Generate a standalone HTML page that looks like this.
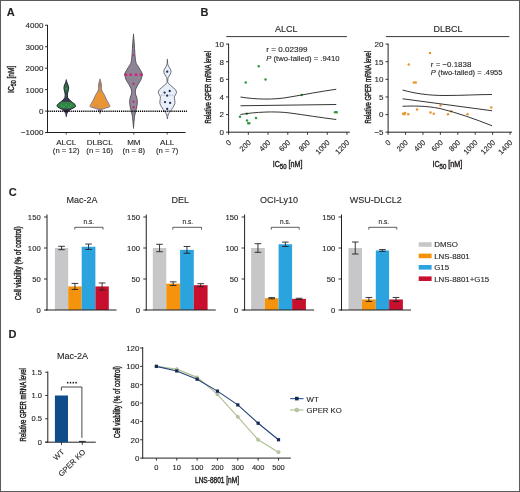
<!DOCTYPE html>
<html><head><meta charset="utf-8"><style>
html,body{margin:0;padding:0;background:#fff;}
#c{position:relative;width:520px;height:492px;overflow:hidden;}
svg{position:absolute;left:0;top:0;will-change:transform;}
svg text{font-family:"Liberation Sans", sans-serif;fill:#231f20;stroke:#231f20;stroke-width:0.12px;}
svg text.cd{stroke-width:0.42px;}
</style></head><body><div id="c">
<svg width="520" height="492" viewBox="0 0 520 492">
<rect x="0" y="0" width="520" height="492" fill="#fff"/>
<text x="6.70" y="15.80" font-size="11" text-anchor="start" font-weight="bold" fill="#000" >A</text>
<line x1="47.50" y1="24.86" x2="47.50" y2="132.60" stroke="#231f20" stroke-width="1.0" />
<line x1="45.00" y1="25.26" x2="47.50" y2="25.26" stroke="#231f20" stroke-width="0.9" />
<text x="43.40" y="28.16" font-size="8" text-anchor="end" >4000</text>
<line x1="45.00" y1="46.72" x2="47.50" y2="46.72" stroke="#231f20" stroke-width="0.9" />
<text x="43.40" y="49.62" font-size="8" text-anchor="end" >3000</text>
<line x1="45.00" y1="68.18" x2="47.50" y2="68.18" stroke="#231f20" stroke-width="0.9" />
<text x="43.40" y="71.08" font-size="8" text-anchor="end" >2000</text>
<line x1="45.00" y1="89.64" x2="47.50" y2="89.64" stroke="#231f20" stroke-width="0.9" />
<text x="43.40" y="92.54" font-size="8" text-anchor="end" >1000</text>
<line x1="45.00" y1="111.10" x2="47.50" y2="111.10" stroke="#231f20" stroke-width="0.9" />
<text x="43.40" y="114.00" font-size="8" text-anchor="end" >0</text>
<line x1="45.00" y1="132.56" x2="47.50" y2="132.56" stroke="#231f20" stroke-width="0.9" />
<text x="43.40" y="135.46" font-size="8" text-anchor="end" >−1000</text>
<line x1="45.80" y1="132.50" x2="185.50" y2="132.50" stroke="#231f20" stroke-width="1.0" />
<line x1="66.20" y1="132.50" x2="66.20" y2="134.60" stroke="#231f20" stroke-width="0.8" />
<line x1="99.70" y1="132.50" x2="99.70" y2="134.60" stroke="#231f20" stroke-width="0.8" />
<line x1="133.80" y1="132.50" x2="133.80" y2="134.60" stroke="#231f20" stroke-width="0.8" />
<line x1="167.20" y1="132.50" x2="167.20" y2="134.60" stroke="#231f20" stroke-width="0.8" />
<text class="cd" transform="translate(14.3,92.9) rotate(-90)" font-size="8.7" textLength="27.3" lengthAdjust="spacingAndGlyphs">IC<tspan font-size="7.0" dy="2.1">50</tspan><tspan dy="-2.1"> [nM]</tspan></text>
<text x="66.20" y="145.00" font-size="8" text-anchor="middle" >ALCL</text>
<text x="66.20" y="153.40" font-size="7.7" text-anchor="middle" >(n = 12)</text>
<text x="99.70" y="145.00" font-size="8" text-anchor="middle" >DLBCL</text>
<text x="99.70" y="153.40" font-size="7.7" text-anchor="middle" >(n = 16)</text>
<text x="133.80" y="145.00" font-size="8" text-anchor="middle" >MM</text>
<text x="133.80" y="153.40" font-size="7.7" text-anchor="middle" >(n = 8)</text>
<text x="167.20" y="145.00" font-size="8" text-anchor="middle" >ALL</text>
<text x="167.20" y="153.40" font-size="7.7" text-anchor="middle" >(n = 7)</text>
<clipPath id="vc1"><path d="M66.30,80.00 C66.44,80.50 66.83,82.08 67.15,83.00 C67.47,83.92 67.95,84.65 68.20,85.50 C68.45,86.35 68.65,87.23 68.65,88.10 C68.65,88.97 68.40,89.70 68.20,90.70 C68.00,91.70 67.53,92.97 67.45,94.10 C67.37,95.23 67.33,96.50 67.70,97.50 C68.08,98.50 68.87,99.25 69.70,100.10 C70.53,100.95 71.73,101.75 72.70,102.60 C73.67,103.45 75.18,104.42 75.50,105.20 C75.82,105.98 75.32,106.67 74.60,107.30 C73.88,107.93 72.15,108.42 71.20,109.00 C70.25,109.58 69.58,110.15 68.90,110.80 C68.22,111.45 67.53,111.98 67.10,112.90 C66.67,113.82 66.43,115.73 66.30,116.30 C66.17,116.87 66.43,116.87 66.30,116.30 C66.17,115.73 65.93,113.82 65.50,112.90 C65.07,111.98 64.38,111.45 63.70,110.80 C63.02,110.15 62.35,109.58 61.40,109.00 C60.45,108.42 58.72,107.93 58.00,107.30 C57.28,106.67 56.78,105.98 57.10,105.20 C57.42,104.42 58.93,103.45 59.90,102.60 C60.87,101.75 62.07,100.95 62.90,100.10 C63.73,99.25 64.52,98.50 64.90,97.50 C65.27,96.50 65.23,95.23 65.15,94.10 C65.07,92.97 64.60,91.70 64.40,90.70 C64.20,89.70 63.95,88.97 63.95,88.10 C63.95,87.23 64.15,86.35 64.40,85.50 C64.65,84.65 65.13,83.92 65.45,83.00 C65.77,82.08 66.16,80.50 66.30,80.00 C66.44,79.50 66.16,79.50 66.30,80.00Z"/></clipPath>
<path d="M66.30,80.00 C66.44,80.50 66.83,82.08 67.15,83.00 C67.47,83.92 67.95,84.65 68.20,85.50 C68.45,86.35 68.65,87.23 68.65,88.10 C68.65,88.97 68.40,89.70 68.20,90.70 C68.00,91.70 67.53,92.97 67.45,94.10 C67.37,95.23 67.33,96.50 67.70,97.50 C68.08,98.50 68.87,99.25 69.70,100.10 C70.53,100.95 71.73,101.75 72.70,102.60 C73.67,103.45 75.18,104.42 75.50,105.20 C75.82,105.98 75.32,106.67 74.60,107.30 C73.88,107.93 72.15,108.42 71.20,109.00 C70.25,109.58 69.58,110.15 68.90,110.80 C68.22,111.45 67.53,111.98 67.10,112.90 C66.67,113.82 66.43,115.73 66.30,116.30 C66.17,116.87 66.43,116.87 66.30,116.30 C66.17,115.73 65.93,113.82 65.50,112.90 C65.07,111.98 64.38,111.45 63.70,110.80 C63.02,110.15 62.35,109.58 61.40,109.00 C60.45,108.42 58.72,107.93 58.00,107.30 C57.28,106.67 56.78,105.98 57.10,105.20 C57.42,104.42 58.93,103.45 59.90,102.60 C60.87,101.75 62.07,100.95 62.90,100.10 C63.73,99.25 64.52,98.50 64.90,97.50 C65.27,96.50 65.23,95.23 65.15,94.10 C65.07,92.97 64.60,91.70 64.40,90.70 C64.20,89.70 63.95,88.97 63.95,88.10 C63.95,87.23 64.15,86.35 64.40,85.50 C64.65,84.65 65.13,83.92 65.45,83.00 C65.77,82.08 66.16,80.50 66.30,80.00 C66.44,79.50 66.16,79.50 66.30,80.00Z" fill="#3a3850"/>
<g clip-path="url(#vc1)">
<rect x="51.3" y="83.5" width="30" height="9.0" fill="#2f6a48"/>
<rect x="51.3" y="92.5" width="30" height="5.5" fill="#2d5a45"/>
<rect x="51.3" y="101.8" width="30" height="6.799999999999997" fill="#2f8444"/>
<circle cx="61.50" cy="105.30" r="0.9" fill="#3fa457"/>
<circle cx="66.30" cy="104.60" r="0.9" fill="#3fa457"/>
<circle cx="71.00" cy="105.50" r="0.9" fill="#3fa457"/>
<circle cx="63.80" cy="106.90" r="0.9" fill="#3fa457"/>
<circle cx="68.80" cy="106.90" r="0.9" fill="#3fa457"/>
<circle cx="66.30" cy="88.50" r="0.9" fill="#3fa457"/>
</g>
<path d="M66.30,80.00 C66.44,80.50 66.83,82.08 67.15,83.00 C67.47,83.92 67.95,84.65 68.20,85.50 C68.45,86.35 68.65,87.23 68.65,88.10 C68.65,88.97 68.40,89.70 68.20,90.70 C68.00,91.70 67.53,92.97 67.45,94.10 C67.37,95.23 67.33,96.50 67.70,97.50 C68.08,98.50 68.87,99.25 69.70,100.10 C70.53,100.95 71.73,101.75 72.70,102.60 C73.67,103.45 75.18,104.42 75.50,105.20 C75.82,105.98 75.32,106.67 74.60,107.30 C73.88,107.93 72.15,108.42 71.20,109.00 C70.25,109.58 69.58,110.15 68.90,110.80 C68.22,111.45 67.53,111.98 67.10,112.90 C66.67,113.82 66.43,115.73 66.30,116.30 C66.17,116.87 66.43,116.87 66.30,116.30 C66.17,115.73 65.93,113.82 65.50,112.90 C65.07,111.98 64.38,111.45 63.70,110.80 C63.02,110.15 62.35,109.58 61.40,109.00 C60.45,108.42 58.72,107.93 58.00,107.30 C57.28,106.67 56.78,105.98 57.10,105.20 C57.42,104.42 58.93,103.45 59.90,102.60 C60.87,101.75 62.07,100.95 62.90,100.10 C63.73,99.25 64.52,98.50 64.90,97.50 C65.27,96.50 65.23,95.23 65.15,94.10 C65.07,92.97 64.60,91.70 64.40,90.70 C64.20,89.70 63.95,88.97 63.95,88.10 C63.95,87.23 64.15,86.35 64.40,85.50 C64.65,84.65 65.13,83.92 65.45,83.00 C65.77,82.08 66.16,80.50 66.30,80.00 C66.44,79.50 66.16,79.50 66.30,80.00Z" fill="none" stroke="#2c2a3e" stroke-width="1.0" stroke-linejoin="round"/>
<clipPath id="vc2"><path d="M100.00,79.30 C100.17,79.83 100.77,81.57 101.00,82.50 C101.23,83.43 101.33,83.95 101.40,84.90 C101.47,85.85 101.27,87.12 101.40,88.20 C101.53,89.28 101.72,90.32 102.20,91.40 C102.68,92.48 103.72,93.60 104.30,94.70 C104.88,95.80 105.20,96.92 105.70,98.00 C106.20,99.08 106.70,100.12 107.30,101.20 C107.90,102.28 108.93,103.55 109.30,104.50 C109.67,105.45 110.38,106.23 109.50,106.90 C108.62,107.57 105.33,107.97 104.00,108.50 C102.67,109.03 102.17,109.28 101.50,110.10 C100.83,110.92 100.25,112.85 100.00,113.40 C99.75,113.95 100.25,113.95 100.00,113.40 C99.75,112.85 99.17,110.92 98.50,110.10 C97.83,109.28 97.33,109.03 96.00,108.50 C94.67,107.97 91.38,107.57 90.50,106.90 C89.62,106.23 90.33,105.45 90.70,104.50 C91.07,103.55 92.10,102.28 92.70,101.20 C93.30,100.12 93.80,99.08 94.30,98.00 C94.80,96.92 95.12,95.80 95.70,94.70 C96.28,93.60 97.32,92.48 97.80,91.40 C98.28,90.32 98.47,89.28 98.60,88.20 C98.73,87.12 98.53,85.85 98.60,84.90 C98.67,83.95 98.77,83.43 99.00,82.50 C99.23,81.57 99.83,79.83 100.00,79.30 C100.17,78.77 99.83,78.77 100.00,79.30Z"/></clipPath>
<path d="M100.00,79.30 C100.17,79.83 100.77,81.57 101.00,82.50 C101.23,83.43 101.33,83.95 101.40,84.90 C101.47,85.85 101.27,87.12 101.40,88.20 C101.53,89.28 101.72,90.32 102.20,91.40 C102.68,92.48 103.72,93.60 104.30,94.70 C104.88,95.80 105.20,96.92 105.70,98.00 C106.20,99.08 106.70,100.12 107.30,101.20 C107.90,102.28 108.93,103.55 109.30,104.50 C109.67,105.45 110.38,106.23 109.50,106.90 C108.62,107.57 105.33,107.97 104.00,108.50 C102.67,109.03 102.17,109.28 101.50,110.10 C100.83,110.92 100.25,112.85 100.00,113.40 C99.75,113.95 100.25,113.95 100.00,113.40 C99.75,112.85 99.17,110.92 98.50,110.10 C97.83,109.28 97.33,109.03 96.00,108.50 C94.67,107.97 91.38,107.57 90.50,106.90 C89.62,106.23 90.33,105.45 90.70,104.50 C91.07,103.55 92.10,102.28 92.70,101.20 C93.30,100.12 93.80,99.08 94.30,98.00 C94.80,96.92 95.12,95.80 95.70,94.70 C96.28,93.60 97.32,92.48 97.80,91.40 C98.28,90.32 98.47,89.28 98.60,88.20 C98.73,87.12 98.53,85.85 98.60,84.90 C98.67,83.95 98.77,83.43 99.00,82.50 C99.23,81.57 99.83,79.83 100.00,79.30 C100.17,78.77 99.83,78.77 100.00,79.30Z" fill="#e99533"/>
<g clip-path="url(#vc2)">
<rect x="85.0" y="79" width="30" height="8" fill="#b08450"/>
<rect x="85.0" y="87" width="30" height="5" fill="#cf8d45"/>
<rect x="85.0" y="108.6" width="30" height="5.400000000000006" fill="#8c8298"/>
<path d="M92,107.5 L97,103 L99,107.5 Z" fill="#c79060" opacity="0.6"/>
</g>
<path d="M100.00,79.30 C100.17,79.83 100.77,81.57 101.00,82.50 C101.23,83.43 101.33,83.95 101.40,84.90 C101.47,85.85 101.27,87.12 101.40,88.20 C101.53,89.28 101.72,90.32 102.20,91.40 C102.68,92.48 103.72,93.60 104.30,94.70 C104.88,95.80 105.20,96.92 105.70,98.00 C106.20,99.08 106.70,100.12 107.30,101.20 C107.90,102.28 108.93,103.55 109.30,104.50 C109.67,105.45 110.38,106.23 109.50,106.90 C108.62,107.57 105.33,107.97 104.00,108.50 C102.67,109.03 102.17,109.28 101.50,110.10 C100.83,110.92 100.25,112.85 100.00,113.40 C99.75,113.95 100.25,113.95 100.00,113.40 C99.75,112.85 99.17,110.92 98.50,110.10 C97.83,109.28 97.33,109.03 96.00,108.50 C94.67,107.97 91.38,107.57 90.50,106.90 C89.62,106.23 90.33,105.45 90.70,104.50 C91.07,103.55 92.10,102.28 92.70,101.20 C93.30,100.12 93.80,99.08 94.30,98.00 C94.80,96.92 95.12,95.80 95.70,94.70 C96.28,93.60 97.32,92.48 97.80,91.40 C98.28,90.32 98.47,89.28 98.60,88.20 C98.73,87.12 98.53,85.85 98.60,84.90 C98.67,83.95 98.77,83.43 99.00,82.50 C99.23,81.57 99.83,79.83 100.00,79.30 C100.17,78.77 99.83,78.77 100.00,79.30Z" fill="none" stroke="#857c94" stroke-width="1.0" stroke-linejoin="round"/>
<clipPath id="vc3"><path d="M133.50,35.00 C133.63,36.47 134.08,40.72 134.30,43.80 C134.53,46.88 134.58,50.42 134.85,53.50 C135.12,56.58 135.38,60.18 135.90,62.30 C136.43,64.42 137.27,64.90 138.00,66.20 C138.73,67.50 139.58,68.80 140.30,70.10 C141.02,71.40 142.10,72.70 142.30,74.00 C142.50,75.30 141.78,76.83 141.50,77.90 C141.22,78.97 141.20,79.25 140.60,80.40 C140.00,81.55 138.72,83.33 137.90,84.80 C137.08,86.27 136.12,87.75 135.70,89.20 C135.28,90.65 135.22,92.05 135.40,93.50 C135.58,94.95 136.48,96.43 136.80,97.90 C137.12,99.37 137.30,100.83 137.30,102.30 C137.30,103.77 137.07,105.23 136.80,106.70 C136.53,108.17 136.05,109.63 135.70,111.10 C135.35,112.57 134.95,114.05 134.70,115.50 C134.45,116.95 134.40,117.80 134.20,119.80 C134.00,121.80 133.62,126.22 133.50,127.50 C133.38,128.78 133.62,128.78 133.50,127.50 C133.38,126.22 133.00,121.80 132.80,119.80 C132.60,117.80 132.55,116.95 132.30,115.50 C132.05,114.05 131.65,112.57 131.30,111.10 C130.95,109.63 130.47,108.17 130.20,106.70 C129.93,105.23 129.70,103.77 129.70,102.30 C129.70,100.83 129.88,99.37 130.20,97.90 C130.52,96.43 131.42,94.95 131.60,93.50 C131.78,92.05 131.72,90.65 131.30,89.20 C130.88,87.75 129.92,86.27 129.10,84.80 C128.28,83.33 127.00,81.55 126.40,80.40 C125.80,79.25 125.78,78.97 125.50,77.90 C125.22,76.83 124.50,75.30 124.70,74.00 C124.90,72.70 125.98,71.40 126.70,70.10 C127.42,68.80 128.27,67.50 129.00,66.20 C129.73,64.90 130.57,64.42 131.10,62.30 C131.62,60.18 131.88,56.58 132.15,53.50 C132.42,50.42 132.47,46.88 132.70,43.80 C132.92,40.72 133.37,36.47 133.50,35.00 C133.63,33.53 133.37,33.53 133.50,35.00Z"/></clipPath>
<path d="M133.50,35.00 C133.63,36.47 134.08,40.72 134.30,43.80 C134.53,46.88 134.58,50.42 134.85,53.50 C135.12,56.58 135.38,60.18 135.90,62.30 C136.43,64.42 137.27,64.90 138.00,66.20 C138.73,67.50 139.58,68.80 140.30,70.10 C141.02,71.40 142.10,72.70 142.30,74.00 C142.50,75.30 141.78,76.83 141.50,77.90 C141.22,78.97 141.20,79.25 140.60,80.40 C140.00,81.55 138.72,83.33 137.90,84.80 C137.08,86.27 136.12,87.75 135.70,89.20 C135.28,90.65 135.22,92.05 135.40,93.50 C135.58,94.95 136.48,96.43 136.80,97.90 C137.12,99.37 137.30,100.83 137.30,102.30 C137.30,103.77 137.07,105.23 136.80,106.70 C136.53,108.17 136.05,109.63 135.70,111.10 C135.35,112.57 134.95,114.05 134.70,115.50 C134.45,116.95 134.40,117.80 134.20,119.80 C134.00,121.80 133.62,126.22 133.50,127.50 C133.38,128.78 133.62,128.78 133.50,127.50 C133.38,126.22 133.00,121.80 132.80,119.80 C132.60,117.80 132.55,116.95 132.30,115.50 C132.05,114.05 131.65,112.57 131.30,111.10 C130.95,109.63 130.47,108.17 130.20,106.70 C129.93,105.23 129.70,103.77 129.70,102.30 C129.70,100.83 129.88,99.37 130.20,97.90 C130.52,96.43 131.42,94.95 131.60,93.50 C131.78,92.05 131.72,90.65 131.30,89.20 C130.88,87.75 129.92,86.27 129.10,84.80 C128.28,83.33 127.00,81.55 126.40,80.40 C125.80,79.25 125.78,78.97 125.50,77.90 C125.22,76.83 124.50,75.30 124.70,74.00 C124.90,72.70 125.98,71.40 126.70,70.10 C127.42,68.80 128.27,67.50 129.00,66.20 C129.73,64.90 130.57,64.42 131.10,62.30 C131.62,60.18 131.88,56.58 132.15,53.50 C132.42,50.42 132.47,46.88 132.70,43.80 C132.92,40.72 133.37,36.47 133.50,35.00 C133.63,33.53 133.37,33.53 133.50,35.00Z" fill="#8e8594"/>
<g clip-path="url(#vc3)">
<rect x="118.5" y="88" width="30" height="40" fill="#958899"/>
</g>
<path d="M133.50,35.00 C133.63,36.47 134.08,40.72 134.30,43.80 C134.53,46.88 134.58,50.42 134.85,53.50 C135.12,56.58 135.38,60.18 135.90,62.30 C136.43,64.42 137.27,64.90 138.00,66.20 C138.73,67.50 139.58,68.80 140.30,70.10 C141.02,71.40 142.10,72.70 142.30,74.00 C142.50,75.30 141.78,76.83 141.50,77.90 C141.22,78.97 141.20,79.25 140.60,80.40 C140.00,81.55 138.72,83.33 137.90,84.80 C137.08,86.27 136.12,87.75 135.70,89.20 C135.28,90.65 135.22,92.05 135.40,93.50 C135.58,94.95 136.48,96.43 136.80,97.90 C137.12,99.37 137.30,100.83 137.30,102.30 C137.30,103.77 137.07,105.23 136.80,106.70 C136.53,108.17 136.05,109.63 135.70,111.10 C135.35,112.57 134.95,114.05 134.70,115.50 C134.45,116.95 134.40,117.80 134.20,119.80 C134.00,121.80 133.62,126.22 133.50,127.50 C133.38,128.78 133.62,128.78 133.50,127.50 C133.38,126.22 133.00,121.80 132.80,119.80 C132.60,117.80 132.55,116.95 132.30,115.50 C132.05,114.05 131.65,112.57 131.30,111.10 C130.95,109.63 130.47,108.17 130.20,106.70 C129.93,105.23 129.70,103.77 129.70,102.30 C129.70,100.83 129.88,99.37 130.20,97.90 C130.52,96.43 131.42,94.95 131.60,93.50 C131.78,92.05 131.72,90.65 131.30,89.20 C130.88,87.75 129.92,86.27 129.10,84.80 C128.28,83.33 127.00,81.55 126.40,80.40 C125.80,79.25 125.78,78.97 125.50,77.90 C125.22,76.83 124.50,75.30 124.70,74.00 C124.90,72.70 125.98,71.40 126.70,70.10 C127.42,68.80 128.27,67.50 129.00,66.20 C129.73,64.90 130.57,64.42 131.10,62.30 C131.62,60.18 131.88,56.58 132.15,53.50 C132.42,50.42 132.47,46.88 132.70,43.80 C132.92,40.72 133.37,36.47 133.50,35.00 C133.63,33.53 133.37,33.53 133.50,35.00Z" fill="none" stroke="#4e4a54" stroke-width="0.9" stroke-linejoin="round"/>
<ellipse cx="125.9" cy="74.7" rx="1.55" ry="1.2" fill="#d61c7c"/>
<ellipse cx="130.6" cy="74.7" rx="1.55" ry="1.2" fill="#d61c7c"/>
<ellipse cx="136.1" cy="74.7" rx="1.55" ry="1.2" fill="#d61c7c"/>
<ellipse cx="141.0" cy="74.7" rx="1.55" ry="1.2" fill="#d61c7c"/>
<circle cx="133.50" cy="55.00" r="0.9" fill="#b5327f"/>
<circle cx="133.50" cy="83.70" r="1.2" fill="#b5327f"/>
<circle cx="133.50" cy="101.80" r="1.2" fill="#b5327f"/>
<circle cx="133.50" cy="107.20" r="1.2" fill="#b5327f"/>
<path d="M167.40,59.60 C167.48,60.45 167.53,63.32 167.90,64.70 C168.27,66.08 169.07,66.83 169.60,67.90 C170.12,68.97 170.96,70.03 171.05,71.10 C171.14,72.17 170.62,73.23 170.15,74.30 C169.68,75.37 168.58,76.55 168.20,77.50 C167.82,78.45 167.90,79.15 167.85,80.00 C167.80,80.85 167.49,81.73 167.90,82.60 C168.31,83.47 169.37,84.33 170.30,85.20 C171.23,86.07 172.52,86.83 173.50,87.80 C174.48,88.77 175.75,90.05 176.20,91.00 C176.65,91.95 176.49,92.55 176.20,93.50 C175.91,94.45 174.68,95.52 174.45,96.70 C174.22,97.88 174.74,99.42 174.80,100.60 C174.86,101.78 175.13,102.63 174.80,103.80 C174.47,104.97 173.55,106.32 172.80,107.60 C172.05,108.88 171.03,110.43 170.30,111.50 C169.57,112.57 168.88,112.83 168.40,114.00 C167.92,115.17 167.57,117.75 167.40,118.50 C167.23,119.25 167.57,119.25 167.40,118.50 C167.23,117.75 166.88,115.17 166.40,114.00 C165.92,112.83 165.23,112.57 164.50,111.50 C163.77,110.43 162.75,108.88 162.00,107.60 C161.25,106.32 160.33,104.97 160.00,103.80 C159.67,102.63 159.94,101.78 160.00,100.60 C160.06,99.42 160.58,97.88 160.35,96.70 C160.12,95.52 158.89,94.45 158.60,93.50 C158.31,92.55 158.15,91.95 158.60,91.00 C159.05,90.05 160.32,88.77 161.30,87.80 C162.28,86.83 163.57,86.07 164.50,85.20 C165.43,84.33 166.49,83.47 166.90,82.60 C167.31,81.73 167.00,80.85 166.95,80.00 C166.90,79.15 166.98,78.45 166.60,77.50 C166.22,76.55 165.12,75.37 164.65,74.30 C164.18,73.23 163.66,72.17 163.75,71.10 C163.84,70.03 164.68,68.97 165.20,67.90 C165.73,66.83 166.53,66.08 166.90,64.70 C167.27,63.32 167.32,60.45 167.40,59.60 C167.48,58.75 167.32,58.75 167.40,59.60Z" fill="#e9eff9" stroke="#4b4b57" stroke-width="0.8" stroke-linejoin="round"/>
<line x1="161.00" y1="95.20" x2="174.00" y2="95.20" stroke="#8a9ab8" stroke-width="0.7" stroke-dasharray="1.5 1.2"/>
<circle cx="167.20" cy="71.70" r="1.15" fill="#1f2d52"/>
<circle cx="169.70" cy="91.00" r="1.15" fill="#1f2d52"/>
<circle cx="164.60" cy="92.60" r="1.15" fill="#1f2d52"/>
<circle cx="167.20" cy="95.70" r="1.15" fill="#1f2d52"/>
<circle cx="165.00" cy="102.10" r="1.15" fill="#1f2d52"/>
<circle cx="170.10" cy="102.90" r="1.15" fill="#1f2d52"/>
<circle cx="167.20" cy="108.90" r="1.15" fill="#1f2d52"/>
<line x1="47.50" y1="111.30" x2="187.00" y2="111.30" stroke="#000" stroke-width="1.5" stroke-dasharray="1.2 0.9"/>
<text x="200.60" y="15.90" font-size="11" text-anchor="start" font-weight="bold" fill="#000" >B</text>
<text x="286.30" y="32.00" font-size="9" text-anchor="middle" >ALCL</text>
<line x1="226.30" y1="36.60" x2="346.90" y2="36.60" stroke="#231f20" stroke-width="0.9" />
<line x1="228.60" y1="43.60" x2="228.60" y2="132.40" stroke="#231f20" stroke-width="1.0" />
<line x1="226.00" y1="44.10" x2="228.60" y2="44.10" stroke="#231f20" stroke-width="0.9" />
<text x="224.00" y="46.90" font-size="8" text-anchor="end" >10</text>
<line x1="226.00" y1="61.72" x2="228.60" y2="61.72" stroke="#231f20" stroke-width="0.9" />
<text x="224.00" y="64.52" font-size="8" text-anchor="end" >8</text>
<line x1="226.00" y1="79.34" x2="228.60" y2="79.34" stroke="#231f20" stroke-width="0.9" />
<text x="224.00" y="82.14" font-size="8" text-anchor="end" >6</text>
<line x1="226.00" y1="96.96" x2="228.60" y2="96.96" stroke="#231f20" stroke-width="0.9" />
<text x="224.00" y="99.76" font-size="8" text-anchor="end" >4</text>
<line x1="226.00" y1="114.58" x2="228.60" y2="114.58" stroke="#231f20" stroke-width="0.9" />
<text x="224.00" y="117.38" font-size="8" text-anchor="end" >2</text>
<line x1="226.00" y1="132.20" x2="228.60" y2="132.20" stroke="#231f20" stroke-width="0.9" />
<text x="224.00" y="135.00" font-size="8" text-anchor="end" >0</text>
<line x1="228.10" y1="132.20" x2="349.80" y2="132.20" stroke="#231f20" stroke-width="1.0" />
<line x1="228.60" y1="132.20" x2="228.60" y2="134.80" stroke="#231f20" stroke-width="0.9" />
<text transform="translate(231.60,143.1) rotate(-45)" font-size="7.5" text-anchor="end">0</text>
<line x1="248.33" y1="132.20" x2="248.33" y2="134.80" stroke="#231f20" stroke-width="0.9" />
<text transform="translate(251.33,143.1) rotate(-45)" font-size="7.5" text-anchor="end">200</text>
<line x1="268.06" y1="132.20" x2="268.06" y2="134.80" stroke="#231f20" stroke-width="0.9" />
<text transform="translate(271.06,143.1) rotate(-45)" font-size="7.5" text-anchor="end">400</text>
<line x1="287.79" y1="132.20" x2="287.79" y2="134.80" stroke="#231f20" stroke-width="0.9" />
<text transform="translate(290.79,143.1) rotate(-45)" font-size="7.5" text-anchor="end">600</text>
<line x1="307.52" y1="132.20" x2="307.52" y2="134.80" stroke="#231f20" stroke-width="0.9" />
<text transform="translate(310.52,143.1) rotate(-45)" font-size="7.5" text-anchor="end">800</text>
<line x1="327.25" y1="132.20" x2="327.25" y2="134.80" stroke="#231f20" stroke-width="0.9" />
<text transform="translate(330.25,143.1) rotate(-45)" font-size="7.5" text-anchor="end">1000</text>
<line x1="346.98" y1="132.20" x2="346.98" y2="134.80" stroke="#231f20" stroke-width="0.9" />
<text transform="translate(349.98,143.1) rotate(-45)" font-size="7.5" text-anchor="end">1200</text>
<text class="cd" transform="translate(211.20,87.3) rotate(-90)" font-size="8.4" text-anchor="middle" textLength="72.6" lengthAdjust="spacingAndGlyphs">Relative GPER mRNA level</text>
<text class="cd" x="272.70" y="167.3" font-size="8.8" textLength="29.8" lengthAdjust="spacingAndGlyphs">IC<tspan font-size="7.4" dy="1.9">50</tspan><tspan dy="-1.9"> [nM]</tspan></text>
<circle cx="258.75" cy="66.25" r="1.25" fill="#2f9a3e"/>
<circle cx="245.75" cy="82.50" r="1.25" fill="#2f9a3e"/>
<circle cx="265.50" cy="79.50" r="1.25" fill="#2f9a3e"/>
<circle cx="301.75" cy="95.00" r="1.25" fill="#2f9a3e"/>
<circle cx="246.75" cy="113.75" r="1.25" fill="#2f9a3e"/>
<circle cx="240.00" cy="116.75" r="1.25" fill="#2f9a3e"/>
<circle cx="247.00" cy="120.50" r="1.25" fill="#2f9a3e"/>
<circle cx="248.25" cy="123.25" r="1.25" fill="#2f9a3e"/>
<circle cx="249.25" cy="123.25" r="1.25" fill="#2f9a3e"/>
<circle cx="256.00" cy="118.00" r="1.25" fill="#2f9a3e"/>
<circle cx="335.00" cy="112.25" r="1.25" fill="#2f9a3e"/>
<circle cx="336.75" cy="112.25" r="1.25" fill="#2f9a3e"/>
<path d="M240.5,105.75 L336.25,104.5" fill="none" stroke="#2b2b2b" stroke-width="0.95"/>
<path d="M240.5,97 C255,99.5 275,100 290,97 C305,94.5 320,91.5 336.25,89.25" fill="none" stroke="#2b2b2b" stroke-width="0.95"/>
<path d="M240.5,114.5 C255,112 275,111 290,113 C305,115 320,117.5 336.25,119.5" fill="none" stroke="#2b2b2b" stroke-width="0.95"/>
<text x="266.30" y="51.80" font-size="8" text-anchor="start" textLength="41.2" lengthAdjust="spacingAndGlyphs" >r = 0.02399</text>
<text x="266.30" y="61.30" font-size="8" textLength="73.2" lengthAdjust="spacingAndGlyphs"><tspan font-style="italic">P</tspan> (two-tailed) = .9410</text>
<text x="447.90" y="32.00" font-size="9" text-anchor="middle" >DLBCL</text>
<line x1="385.90" y1="36.60" x2="509.30" y2="36.60" stroke="#231f20" stroke-width="0.9" />
<line x1="388.10" y1="43.60" x2="388.10" y2="132.40" stroke="#231f20" stroke-width="1.0" />
<line x1="385.50" y1="44.10" x2="388.10" y2="44.10" stroke="#231f20" stroke-width="0.9" />
<text x="383.50" y="46.90" font-size="8" text-anchor="end" >20</text>
<line x1="385.50" y1="61.72" x2="388.10" y2="61.72" stroke="#231f20" stroke-width="0.9" />
<text x="383.50" y="64.52" font-size="8" text-anchor="end" >15</text>
<line x1="385.50" y1="79.34" x2="388.10" y2="79.34" stroke="#231f20" stroke-width="0.9" />
<text x="383.50" y="82.14" font-size="8" text-anchor="end" >10</text>
<line x1="385.50" y1="96.96" x2="388.10" y2="96.96" stroke="#231f20" stroke-width="0.9" />
<text x="383.50" y="99.76" font-size="8" text-anchor="end" >5</text>
<line x1="385.50" y1="114.58" x2="388.10" y2="114.58" stroke="#231f20" stroke-width="0.9" />
<text x="383.50" y="117.38" font-size="8" text-anchor="end" >0</text>
<line x1="385.50" y1="132.20" x2="388.10" y2="132.20" stroke="#231f20" stroke-width="0.9" />
<text x="383.50" y="135.00" font-size="8" text-anchor="end" >−5</text>
<line x1="387.60" y1="132.20" x2="512.00" y2="132.20" stroke="#231f20" stroke-width="1.0" />
<line x1="388.10" y1="132.20" x2="388.10" y2="134.80" stroke="#231f20" stroke-width="0.9" />
<text transform="translate(391.10,143.1) rotate(-45)" font-size="7.5" text-anchor="end">0</text>
<line x1="405.52" y1="132.20" x2="405.52" y2="134.80" stroke="#231f20" stroke-width="0.9" />
<text transform="translate(408.52,143.1) rotate(-45)" font-size="7.5" text-anchor="end">200</text>
<line x1="422.94" y1="132.20" x2="422.94" y2="134.80" stroke="#231f20" stroke-width="0.9" />
<text transform="translate(425.94,143.1) rotate(-45)" font-size="7.5" text-anchor="end">400</text>
<line x1="440.36" y1="132.20" x2="440.36" y2="134.80" stroke="#231f20" stroke-width="0.9" />
<text transform="translate(443.36,143.1) rotate(-45)" font-size="7.5" text-anchor="end">600</text>
<line x1="457.78" y1="132.20" x2="457.78" y2="134.80" stroke="#231f20" stroke-width="0.9" />
<text transform="translate(460.78,143.1) rotate(-45)" font-size="7.5" text-anchor="end">800</text>
<line x1="475.20" y1="132.20" x2="475.20" y2="134.80" stroke="#231f20" stroke-width="0.9" />
<text transform="translate(478.20,143.1) rotate(-45)" font-size="7.5" text-anchor="end">1000</text>
<line x1="492.62" y1="132.20" x2="492.62" y2="134.80" stroke="#231f20" stroke-width="0.9" />
<text transform="translate(495.62,143.1) rotate(-45)" font-size="7.5" text-anchor="end">1200</text>
<line x1="510.04" y1="132.20" x2="510.04" y2="134.80" stroke="#231f20" stroke-width="0.9" />
<text transform="translate(513.04,143.1) rotate(-45)" font-size="7.5" text-anchor="end">1400</text>
<text class="cd" transform="translate(370.70,87.3) rotate(-90)" font-size="8.4" text-anchor="middle" textLength="72.6" lengthAdjust="spacingAndGlyphs">Relative GPER mRNA level</text>
<text class="cd" x="432.40" y="167.3" font-size="8.8" textLength="29.8" lengthAdjust="spacingAndGlyphs">IC<tspan font-size="7.4" dy="1.9">50</tspan><tspan dy="-1.9"> [nM]</tspan></text>
<circle cx="430.00" cy="53.00" r="1.25" fill="#e7962c"/>
<circle cx="408.75" cy="64.50" r="1.25" fill="#e7962c"/>
<circle cx="413.75" cy="82.50" r="1.25" fill="#e7962c"/>
<circle cx="415.75" cy="82.50" r="1.25" fill="#e7962c"/>
<circle cx="417.00" cy="109.50" r="1.25" fill="#e7962c"/>
<circle cx="403.00" cy="113.75" r="1.25" fill="#e7962c"/>
<circle cx="404.25" cy="114.25" r="1.25" fill="#e7962c"/>
<circle cx="405.00" cy="113.00" r="1.25" fill="#e7962c"/>
<circle cx="408.25" cy="114.25" r="1.25" fill="#e7962c"/>
<circle cx="430.50" cy="112.50" r="1.25" fill="#e7962c"/>
<circle cx="433.75" cy="113.75" r="1.25" fill="#e7962c"/>
<circle cx="440.50" cy="105.50" r="1.25" fill="#e7962c"/>
<circle cx="448.00" cy="114.25" r="1.25" fill="#e7962c"/>
<circle cx="451.25" cy="111.25" r="1.25" fill="#e7962c"/>
<circle cx="467.50" cy="114.25" r="1.25" fill="#e7962c"/>
<circle cx="491.25" cy="107.50" r="1.25" fill="#e7962c"/>
<path d="M402.5,98.75 L492,110.75" fill="none" stroke="#2b2b2b" stroke-width="0.95"/>
<path d="M402.5,90 C415,93.5 428,95.5 445,95.5 C462,95.5 478,94.5 492,94.5" fill="none" stroke="#2b2b2b" stroke-width="0.95"/>
<path d="M402.5,106.25 C412,106 425,105.5 440,108.5 C458,113 475,119 492,125.75" fill="none" stroke="#2b2b2b" stroke-width="0.95"/>
<text x="430.80" y="67.00" font-size="8" text-anchor="start" textLength="40.5" lengthAdjust="spacingAndGlyphs" >r = −0.1838</text>
<text x="430.80" y="75.30" font-size="8" textLength="71.7" lengthAdjust="spacingAndGlyphs"><tspan font-style="italic">P</tspan> (two-tailed) = .4955</text>
<text x="8.70" y="195.70" font-size="11" text-anchor="start" font-weight="bold" fill="#000" >C</text>
<text x="82.00" y="202.50" font-size="9" text-anchor="middle" >Mac-2A</text>
<rect x="54.90" y="248.00" width="13.30" height="62.00" fill="#c7c7c9"/>
<rect x="68.20" y="286.44" width="13.50" height="23.56" fill="#f5930d"/>
<rect x="81.70" y="246.76" width="13.70" height="63.24" fill="#2aa3df"/>
<rect x="95.40" y="286.44" width="13.40" height="23.56" fill="#c8102e"/>
<line x1="61.55" y1="246.30" x2="61.55" y2="249.70" stroke="#222" stroke-width="0.9" />
<line x1="58.25" y1="246.30" x2="64.85" y2="246.30" stroke="#222" stroke-width="0.9" />
<line x1="58.25" y1="249.70" x2="64.85" y2="249.70" stroke="#222" stroke-width="0.9" />
<line x1="74.95" y1="283.44" x2="74.95" y2="289.44" stroke="#222" stroke-width="0.9" />
<line x1="71.65" y1="283.44" x2="78.25" y2="283.44" stroke="#222" stroke-width="0.9" />
<line x1="71.65" y1="289.44" x2="78.25" y2="289.44" stroke="#222" stroke-width="0.9" />
<line x1="88.55" y1="244.06" x2="88.55" y2="249.46" stroke="#222" stroke-width="0.9" />
<line x1="85.25" y1="244.06" x2="91.85" y2="244.06" stroke="#222" stroke-width="0.9" />
<line x1="85.25" y1="249.46" x2="91.85" y2="249.46" stroke="#222" stroke-width="0.9" />
<line x1="102.10" y1="282.94" x2="102.10" y2="289.94" stroke="#222" stroke-width="0.9" />
<line x1="98.80" y1="282.94" x2="105.40" y2="282.94" stroke="#222" stroke-width="0.9" />
<line x1="98.80" y1="289.94" x2="105.40" y2="289.94" stroke="#222" stroke-width="0.9" />
<line x1="47.00" y1="214.50" x2="47.00" y2="310.40" stroke="#231f20" stroke-width="1.0" />
<line x1="44.00" y1="217.00" x2="47.00" y2="217.00" stroke="#231f20" stroke-width="0.9" />
<text x="40.70" y="219.70" font-size="7.7" text-anchor="end" >150</text>
<line x1="44.00" y1="248.00" x2="47.00" y2="248.00" stroke="#231f20" stroke-width="0.9" />
<text x="40.70" y="250.70" font-size="7.7" text-anchor="end" >100</text>
<line x1="44.00" y1="279.00" x2="47.00" y2="279.00" stroke="#231f20" stroke-width="0.9" />
<text x="40.70" y="281.70" font-size="7.7" text-anchor="end" >50</text>
<line x1="44.00" y1="310.00" x2="47.00" y2="310.00" stroke="#231f20" stroke-width="0.9" />
<text x="40.70" y="312.70" font-size="7.7" text-anchor="end" >0</text>
<line x1="45.80" y1="310.00" x2="116.50" y2="310.00" stroke="#231f20" stroke-width="1.0" />
<path d="M74.80,229.6 V227.3 H103.00 V229.6" fill="none" stroke="#333" stroke-width="0.8"/>
<text x="88.80" y="224.30" font-size="6.5" text-anchor="middle" fill="#444" >n.s.</text>
<text x="180.30" y="202.50" font-size="9" text-anchor="middle" >DEL</text>
<rect x="152.80" y="248.00" width="13.50" height="62.00" fill="#c7c7c9"/>
<rect x="166.30" y="283.65" width="13.80" height="26.35" fill="#f5930d"/>
<rect x="180.10" y="249.86" width="13.70" height="60.14" fill="#2aa3df"/>
<rect x="193.80" y="285.20" width="13.80" height="24.80" fill="#c8102e"/>
<line x1="159.55" y1="244.30" x2="159.55" y2="251.70" stroke="#222" stroke-width="0.9" />
<line x1="156.25" y1="244.30" x2="162.85" y2="244.30" stroke="#222" stroke-width="0.9" />
<line x1="156.25" y1="251.70" x2="162.85" y2="251.70" stroke="#222" stroke-width="0.9" />
<line x1="173.20" y1="281.85" x2="173.20" y2="285.45" stroke="#222" stroke-width="0.9" />
<line x1="169.90" y1="281.85" x2="176.50" y2="281.85" stroke="#222" stroke-width="0.9" />
<line x1="169.90" y1="285.45" x2="176.50" y2="285.45" stroke="#222" stroke-width="0.9" />
<line x1="186.95" y1="246.46" x2="186.95" y2="253.26" stroke="#222" stroke-width="0.9" />
<line x1="183.65" y1="246.46" x2="190.25" y2="246.46" stroke="#222" stroke-width="0.9" />
<line x1="183.65" y1="253.26" x2="190.25" y2="253.26" stroke="#222" stroke-width="0.9" />
<line x1="200.70" y1="283.70" x2="200.70" y2="286.70" stroke="#222" stroke-width="0.9" />
<line x1="197.40" y1="283.70" x2="204.00" y2="283.70" stroke="#222" stroke-width="0.9" />
<line x1="197.40" y1="286.70" x2="204.00" y2="286.70" stroke="#222" stroke-width="0.9" />
<line x1="146.25" y1="214.50" x2="146.25" y2="310.40" stroke="#231f20" stroke-width="1.0" />
<line x1="143.25" y1="217.00" x2="146.25" y2="217.00" stroke="#231f20" stroke-width="0.9" />
<text x="139.95" y="219.70" font-size="7.7" text-anchor="end" >150</text>
<line x1="143.25" y1="248.00" x2="146.25" y2="248.00" stroke="#231f20" stroke-width="0.9" />
<text x="139.95" y="250.70" font-size="7.7" text-anchor="end" >100</text>
<line x1="143.25" y1="279.00" x2="146.25" y2="279.00" stroke="#231f20" stroke-width="0.9" />
<text x="139.95" y="281.70" font-size="7.7" text-anchor="end" >50</text>
<line x1="143.25" y1="310.00" x2="146.25" y2="310.00" stroke="#231f20" stroke-width="0.9" />
<text x="139.95" y="312.70" font-size="7.7" text-anchor="end" >0</text>
<line x1="145.05" y1="310.00" x2="215.75" y2="310.00" stroke="#231f20" stroke-width="1.0" />
<path d="M172.80,229.6 V227.3 H201.50 V229.6" fill="none" stroke="#333" stroke-width="0.8"/>
<text x="187.80" y="224.30" font-size="6.5" text-anchor="middle" fill="#444" >n.s.</text>
<text x="279.00" y="202.50" font-size="9" text-anchor="middle" >OCI-Ly10</text>
<rect x="251.10" y="248.00" width="13.70" height="62.00" fill="#c7c7c9"/>
<rect x="264.80" y="298.22" width="13.80" height="11.78" fill="#f5930d"/>
<rect x="278.60" y="244.28" width="13.50" height="65.72" fill="#2aa3df"/>
<rect x="292.10" y="298.84" width="13.80" height="11.16" fill="#c8102e"/>
<line x1="257.95" y1="243.70" x2="257.95" y2="252.30" stroke="#222" stroke-width="0.9" />
<line x1="254.65" y1="243.70" x2="261.25" y2="243.70" stroke="#222" stroke-width="0.9" />
<line x1="254.65" y1="252.30" x2="261.25" y2="252.30" stroke="#222" stroke-width="0.9" />
<line x1="271.70" y1="297.62" x2="271.70" y2="298.82" stroke="#222" stroke-width="0.9" />
<line x1="268.40" y1="297.62" x2="275.00" y2="297.62" stroke="#222" stroke-width="0.9" />
<line x1="268.40" y1="298.82" x2="275.00" y2="298.82" stroke="#222" stroke-width="0.9" />
<line x1="285.35" y1="242.08" x2="285.35" y2="246.48" stroke="#222" stroke-width="0.9" />
<line x1="282.05" y1="242.08" x2="288.65" y2="242.08" stroke="#222" stroke-width="0.9" />
<line x1="282.05" y1="246.48" x2="288.65" y2="246.48" stroke="#222" stroke-width="0.9" />
<line x1="299.00" y1="298.24" x2="299.00" y2="299.44" stroke="#222" stroke-width="0.9" />
<line x1="295.70" y1="298.24" x2="302.30" y2="298.24" stroke="#222" stroke-width="0.9" />
<line x1="295.70" y1="299.44" x2="302.30" y2="299.44" stroke="#222" stroke-width="0.9" />
<line x1="244.60" y1="214.50" x2="244.60" y2="310.40" stroke="#231f20" stroke-width="1.0" />
<line x1="241.60" y1="217.00" x2="244.60" y2="217.00" stroke="#231f20" stroke-width="0.9" />
<text x="238.30" y="219.70" font-size="7.7" text-anchor="end" >150</text>
<line x1="241.60" y1="248.00" x2="244.60" y2="248.00" stroke="#231f20" stroke-width="0.9" />
<text x="238.30" y="250.70" font-size="7.7" text-anchor="end" >100</text>
<line x1="241.60" y1="279.00" x2="244.60" y2="279.00" stroke="#231f20" stroke-width="0.9" />
<text x="238.30" y="281.70" font-size="7.7" text-anchor="end" >50</text>
<line x1="241.60" y1="310.00" x2="244.60" y2="310.00" stroke="#231f20" stroke-width="0.9" />
<text x="238.30" y="312.70" font-size="7.7" text-anchor="end" >0</text>
<line x1="243.40" y1="310.00" x2="314.10" y2="310.00" stroke="#231f20" stroke-width="1.0" />
<path d="M271.30,229.6 V227.3 H299.20 V229.6" fill="none" stroke="#333" stroke-width="0.8"/>
<text x="285.30" y="224.30" font-size="6.5" text-anchor="middle" fill="#444" >n.s.</text>
<text x="375.70" y="202.50" font-size="9" text-anchor="middle" >WSU-DLCL2</text>
<rect x="348.50" y="248.00" width="13.50" height="62.00" fill="#c7c7c9"/>
<rect x="362.00" y="299.46" width="13.80" height="10.54" fill="#f5930d"/>
<rect x="375.80" y="250.48" width="13.30" height="59.52" fill="#2aa3df"/>
<rect x="389.10" y="299.46" width="13.80" height="10.54" fill="#c8102e"/>
<line x1="355.25" y1="242.00" x2="355.25" y2="254.00" stroke="#222" stroke-width="0.9" />
<line x1="351.95" y1="242.00" x2="358.55" y2="242.00" stroke="#222" stroke-width="0.9" />
<line x1="351.95" y1="254.00" x2="358.55" y2="254.00" stroke="#222" stroke-width="0.9" />
<line x1="368.90" y1="297.46" x2="368.90" y2="301.46" stroke="#222" stroke-width="0.9" />
<line x1="365.60" y1="297.46" x2="372.20" y2="297.46" stroke="#222" stroke-width="0.9" />
<line x1="365.60" y1="301.46" x2="372.20" y2="301.46" stroke="#222" stroke-width="0.9" />
<line x1="382.45" y1="249.58" x2="382.45" y2="251.38" stroke="#222" stroke-width="0.9" />
<line x1="379.15" y1="249.58" x2="385.75" y2="249.58" stroke="#222" stroke-width="0.9" />
<line x1="379.15" y1="251.38" x2="385.75" y2="251.38" stroke="#222" stroke-width="0.9" />
<line x1="396.00" y1="297.46" x2="396.00" y2="301.46" stroke="#222" stroke-width="0.9" />
<line x1="392.70" y1="297.46" x2="399.30" y2="297.46" stroke="#222" stroke-width="0.9" />
<line x1="392.70" y1="301.46" x2="399.30" y2="301.46" stroke="#222" stroke-width="0.9" />
<line x1="341.50" y1="214.50" x2="341.50" y2="310.40" stroke="#231f20" stroke-width="1.0" />
<line x1="338.50" y1="217.00" x2="341.50" y2="217.00" stroke="#231f20" stroke-width="0.9" />
<text x="335.20" y="219.70" font-size="7.7" text-anchor="end" >150</text>
<line x1="338.50" y1="248.00" x2="341.50" y2="248.00" stroke="#231f20" stroke-width="0.9" />
<text x="335.20" y="250.70" font-size="7.7" text-anchor="end" >100</text>
<line x1="338.50" y1="279.00" x2="341.50" y2="279.00" stroke="#231f20" stroke-width="0.9" />
<text x="335.20" y="281.70" font-size="7.7" text-anchor="end" >50</text>
<line x1="338.50" y1="310.00" x2="341.50" y2="310.00" stroke="#231f20" stroke-width="0.9" />
<text x="335.20" y="312.70" font-size="7.7" text-anchor="end" >0</text>
<line x1="340.30" y1="310.00" x2="411.00" y2="310.00" stroke="#231f20" stroke-width="1.0" />
<path d="M368.80,229.6 V227.3 H396.80 V229.6" fill="none" stroke="#333" stroke-width="0.8"/>
<text x="383.80" y="224.30" font-size="6.5" text-anchor="middle" fill="#444" >n.s.</text>
<text class="cd" transform="translate(21.2,263.3) rotate(-90)" font-size="8.3" text-anchor="middle" textLength="74" lengthAdjust="spacingAndGlyphs">Cell viability (% of control)</text>
<rect x="418.70" y="242.20" width="12.90" height="4.60" fill="#c7c7c9"/>
<text x="434.20" y="247.30" font-size="7.9" text-anchor="start" >DMSO</text>
<rect x="418.70" y="253.60" width="12.90" height="4.60" fill="#f5930d"/>
<text x="434.20" y="258.70" font-size="7.9" text-anchor="start" >LNS-8801</text>
<rect x="418.70" y="265.00" width="12.90" height="4.60" fill="#2aa3df"/>
<text x="434.20" y="270.10" font-size="7.9" text-anchor="start" >G15</text>
<rect x="418.70" y="276.40" width="12.90" height="4.60" fill="#c8102e"/>
<text x="434.20" y="281.50" font-size="7.9" text-anchor="start" >LNS-8801+G15</text>
<text x="8.60" y="338.00" font-size="11" text-anchor="start" font-weight="bold" fill="#000" >D</text>
<text x="72.60" y="358.60" font-size="9" text-anchor="middle" >Mac-2A</text>
<line x1="47.80" y1="371.50" x2="47.80" y2="442.60" stroke="#231f20" stroke-width="1.0" />
<line x1="45.20" y1="372.20" x2="47.80" y2="372.20" stroke="#231f20" stroke-width="0.9" />
<text x="42.00" y="374.80" font-size="7.5" text-anchor="end" >1.5</text>
<line x1="45.20" y1="395.50" x2="47.80" y2="395.50" stroke="#231f20" stroke-width="0.9" />
<text x="42.00" y="398.10" font-size="7.5" text-anchor="end" >1.0</text>
<line x1="45.20" y1="418.80" x2="47.80" y2="418.80" stroke="#231f20" stroke-width="0.9" />
<text x="42.00" y="421.40" font-size="7.5" text-anchor="end" >0.5</text>
<line x1="45.20" y1="442.10" x2="47.80" y2="442.10" stroke="#231f20" stroke-width="0.9" />
<text x="42.00" y="444.70" font-size="7.5" text-anchor="end" >0</text>
<line x1="45.40" y1="442.20" x2="95.80" y2="442.20" stroke="#231f20" stroke-width="1.0" />
<rect x="54.90" y="395.50" width="13.10" height="46.70" fill="#0f4c8c"/>
<line x1="79.00" y1="441.40" x2="85.70" y2="441.40" stroke="#222" stroke-width="1.0" />
<line x1="61.50" y1="442.20" x2="61.50" y2="444.80" stroke="#231f20" stroke-width="0.9" />
<line x1="82.30" y1="442.20" x2="82.30" y2="444.80" stroke="#231f20" stroke-width="0.9" />
<path d="M61.4,390.6 V387.0 H81.9 V437.8" fill="none" stroke="#333" stroke-width="0.9"/>
<circle cx="67.70" cy="382.70" r="0.85" fill="#222"/>
<circle cx="70.50" cy="382.70" r="0.85" fill="#222"/>
<circle cx="73.30" cy="382.70" r="0.85" fill="#222"/>
<circle cx="76.10" cy="382.70" r="0.85" fill="#222"/>
<text transform="translate(64.7,452.4) rotate(-45)" font-size="7.6" text-anchor="end">WT</text>
<text transform="translate(86.0,452.6) rotate(-45)" font-size="7.6" text-anchor="end">GPER KO</text>
<text class="cd" transform="translate(26.4,404.8) rotate(-90)" font-size="8.3" text-anchor="middle" textLength="73.2" lengthAdjust="spacingAndGlyphs">Relative GPER mRNA level</text>
<line x1="142.70" y1="347.00" x2="142.70" y2="458.60" stroke="#231f20" stroke-width="1.0" />
<line x1="140.10" y1="348.00" x2="142.70" y2="348.00" stroke="#231f20" stroke-width="0.9" />
<text x="139.30" y="350.80" font-size="7.9" text-anchor="end" >120</text>
<line x1="140.10" y1="366.35" x2="142.70" y2="366.35" stroke="#231f20" stroke-width="0.9" />
<text x="139.30" y="369.15" font-size="7.9" text-anchor="end" >100</text>
<line x1="140.10" y1="384.70" x2="142.70" y2="384.70" stroke="#231f20" stroke-width="0.9" />
<text x="139.30" y="387.50" font-size="7.9" text-anchor="end" >80</text>
<line x1="140.10" y1="403.05" x2="142.70" y2="403.05" stroke="#231f20" stroke-width="0.9" />
<text x="139.30" y="405.85" font-size="7.9" text-anchor="end" >60</text>
<line x1="140.10" y1="421.40" x2="142.70" y2="421.40" stroke="#231f20" stroke-width="0.9" />
<text x="139.30" y="424.20" font-size="7.9" text-anchor="end" >40</text>
<line x1="140.10" y1="439.75" x2="142.70" y2="439.75" stroke="#231f20" stroke-width="0.9" />
<text x="139.30" y="442.55" font-size="7.9" text-anchor="end" >20</text>
<line x1="140.10" y1="458.10" x2="142.70" y2="458.10" stroke="#231f20" stroke-width="0.9" />
<text x="139.30" y="460.90" font-size="7.9" text-anchor="end" >0</text>
<line x1="142.20" y1="458.10" x2="290.80" y2="458.10" stroke="#231f20" stroke-width="1.0" />
<line x1="156.40" y1="458.10" x2="156.40" y2="460.60" stroke="#231f20" stroke-width="0.9" />
<text x="156.40" y="470.20" font-size="7.5" text-anchor="middle" >0</text>
<line x1="176.75" y1="458.10" x2="176.75" y2="460.60" stroke="#231f20" stroke-width="0.9" />
<text x="176.75" y="470.20" font-size="7.5" text-anchor="middle" >10</text>
<line x1="197.10" y1="458.10" x2="197.10" y2="460.60" stroke="#231f20" stroke-width="0.9" />
<text x="197.10" y="470.20" font-size="7.5" text-anchor="middle" >100</text>
<line x1="217.45" y1="458.10" x2="217.45" y2="460.60" stroke="#231f20" stroke-width="0.9" />
<text x="217.45" y="470.20" font-size="7.5" text-anchor="middle" >200</text>
<line x1="237.80" y1="458.10" x2="237.80" y2="460.60" stroke="#231f20" stroke-width="0.9" />
<text x="237.80" y="470.20" font-size="7.5" text-anchor="middle" >300</text>
<line x1="258.15" y1="458.10" x2="258.15" y2="460.60" stroke="#231f20" stroke-width="0.9" />
<text x="258.15" y="470.20" font-size="7.5" text-anchor="middle" >400</text>
<line x1="278.50" y1="458.10" x2="278.50" y2="460.60" stroke="#231f20" stroke-width="0.9" />
<text x="278.50" y="470.20" font-size="7.5" text-anchor="middle" >500</text>
<polyline points="156.40,366.35 176.75,369.10 197.10,377.36 217.45,394.33 237.80,416.81 258.15,439.75 278.50,452.14" fill="none" stroke="#b0c196" stroke-width="1.15"/>
<polyline points="156.40,366.35 176.75,370.94 197.10,379.20 217.45,391.12 237.80,404.89 258.15,423.24 278.50,439.75" fill="none" stroke="#23437a" stroke-width="1.15"/>
<circle cx="156.40" cy="366.35" r="1.6" fill="#b9c4a4" stroke="#9dab88" stroke-width="0.5"/>
<circle cx="176.75" cy="369.10" r="1.6" fill="#b9c4a4" stroke="#9dab88" stroke-width="0.5"/>
<circle cx="197.10" cy="377.36" r="1.6" fill="#b9c4a4" stroke="#9dab88" stroke-width="0.5"/>
<circle cx="217.45" cy="394.33" r="1.6" fill="#b9c4a4" stroke="#9dab88" stroke-width="0.5"/>
<circle cx="237.80" cy="416.81" r="1.6" fill="#b9c4a4" stroke="#9dab88" stroke-width="0.5"/>
<circle cx="258.15" cy="439.75" r="1.6" fill="#b9c4a4" stroke="#9dab88" stroke-width="0.5"/>
<circle cx="278.50" cy="452.14" r="1.6" fill="#b9c4a4" stroke="#9dab88" stroke-width="0.5"/>
<rect x="154.80" y="364.75" width="3.20" height="3.20" fill="#142a50"/>
<rect x="175.15" y="369.34" width="3.20" height="3.20" fill="#142a50"/>
<rect x="195.50" y="377.60" width="3.20" height="3.20" fill="#142a50"/>
<rect x="215.85" y="389.52" width="3.20" height="3.20" fill="#142a50"/>
<rect x="236.20" y="403.29" width="3.20" height="3.20" fill="#142a50"/>
<rect x="256.55" y="421.63" width="3.20" height="3.20" fill="#142a50"/>
<rect x="276.90" y="438.15" width="3.20" height="3.20" fill="#142a50"/>
<text class="cd" transform="translate(119.6,402.2) rotate(-90)" font-size="8.3" text-anchor="middle" textLength="72.2" lengthAdjust="spacingAndGlyphs">Cell viability (% of control)</text>
<text class="cd" x="195.0" y="483.1" font-size="8.4" textLength="44" lengthAdjust="spacingAndGlyphs">LNS-8801 [nM]</text>
<line x1="290.20" y1="398.60" x2="303.50" y2="398.60" stroke="#3a64a0" stroke-width="1.2" />
<rect x="295.00" y="396.80" width="3.60" height="3.60" fill="#142a50"/>
<line x1="290.20" y1="410.00" x2="303.50" y2="410.00" stroke="#b0c196" stroke-width="1.2" />
<circle cx="296.8" cy="410.0" r="1.9" fill="#b9c4a4" stroke="#9dab88" stroke-width="0.5"/>
<text x="306.60" y="401.50" font-size="7.8" text-anchor="start" >WT</text>
<text x="306.60" y="412.90" font-size="7.7" text-anchor="start" >GPER KO</text>
<rect x="0.5" y="0.5" width="519" height="491" fill="none" stroke="#5a5a5a" stroke-width="1"/>
</svg></div></body></html>
